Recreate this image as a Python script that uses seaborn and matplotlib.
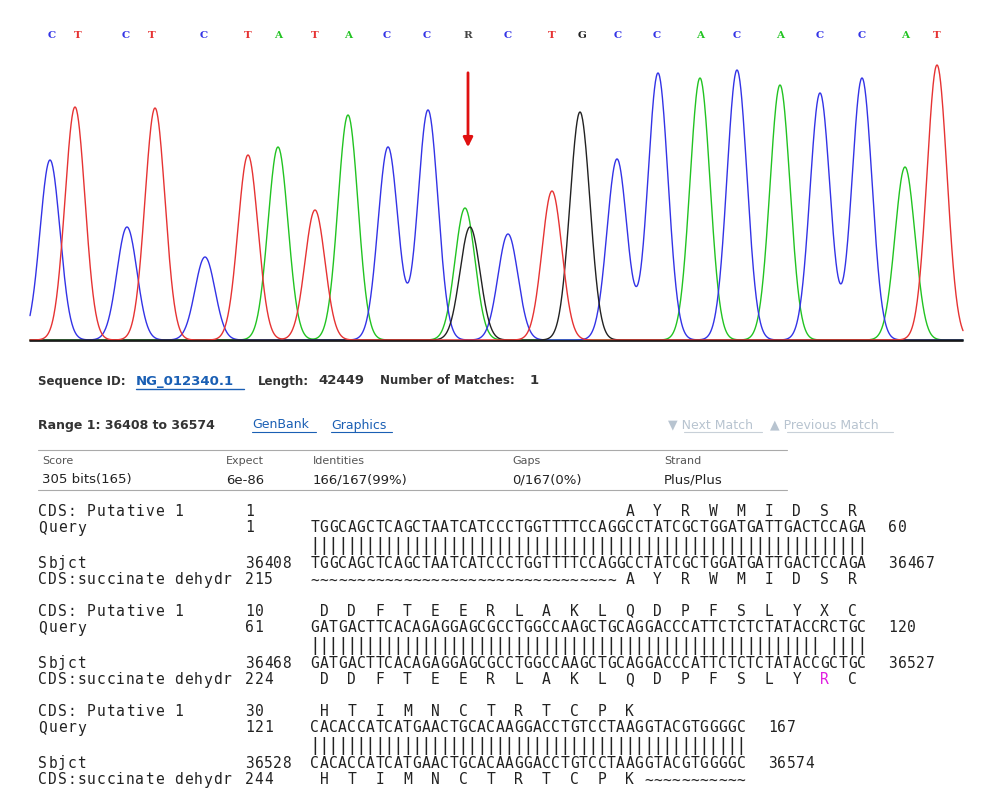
import numpy as np
import pandas as pd
import seaborn as sns
import matplotlib
matplotlib.use("Agg")
import matplotlib.pyplot as plt

sns.set_theme(style="white")
plt.rcParams['font.family'] = ['DejaVu Sans']

# ---- chromatogram data ----
peak_x = [50, 75, 127, 155, 205, 248, 278, 315, 348, 388, 428, 465, 470, 508, 552, 580, 617, 658, 700, 737, 780, 820, 862, 905, 937]
peak_h = [180, 233, 113, 232, 83, 185, 193, 130, 225, 193, 230, 132, 113, 106, 149, 228, 181, 267, 262, 270, 255, 247, 262, 173, 275]
peak_base = ['C', 'T', 'C', 'T', 'C', 'T', 'A', 'T', 'A', 'C', 'C', 'A', 'G', 'C', 'T', 'G', 'C', 'C', 'A', 'C', 'A', 'C', 'C', 'A', 'T']
call_x = [52, 78, 126, 152, 204, 248, 278, 315, 348, 387, 427, 468, 508, 552, 582, 618, 657, 700, 737, 780, 820, 862, 905, 937]
call_base = ['C', 'T', 'C', 'T', 'C', 'T', 'A', 'T', 'A', 'C', 'C', 'R', 'C', 'T', 'G', 'C', 'C', 'A', 'C', 'A', 'C', 'C', 'A', 'T']

base_col = {'A': '#22c322', 'C': '#3333e6', 'G': '#222222', 'T': '#e63333', 'R': '#444444'}

fig = plt.figure(figsize=(9.89, 8.0), dpi=100)
ax = fig.add_axes([0, 0, 1, 1])
ax.set_xlim(0, 989)
ax.set_ylim(800, 0)
ax.axis('off')

BASE_Y = 340
xs = np.linspace(30, 963, 2000)
rows = []
for b in 'ACGT':
    y = np.zeros_like(xs)
    for px, ph, pb in zip(peak_x, peak_h, peak_base):
        if pb == b:
            y += ph * np.exp(-0.5 * ((xs - px) / 10.0) ** 2)
    for xv, yv in zip(xs, y):
        rows.append((b, xv, BASE_Y - yv))
df = pd.DataFrame(rows, columns=['base', 'x', 'y'])
sns.lineplot(data=df, x='x', y='y', hue='base', palette=base_col, ax=ax,
             legend=False, linewidth=1.0, sort=False, estimator=None)
ax.plot([30, 963], [BASE_Y + 1, BASE_Y + 1], color='#111111', lw=1.2)

for cx, cb in zip(call_x, call_base):
    ax.text(cx, 36, cb, color=base_col[cb], fontsize=7.5, ha='center', va='center',
            family='DejaVu Serif', fontweight='bold')
ax.annotate('', xy=(468, 150), xytext=(468, 70),
            arrowprops=dict(arrowstyle='-|>', color='#e01010', lw=2, mutation_scale=14))

# ---- header text ----
gray = '#333333'
link = '#1a5fb4'
ax.text(38, 381, 'Sequence ID:', fontsize=8.5, fontweight='bold', color=gray, va='center')
ax.text(136, 381, 'NG_012340.1', fontsize=9.5, fontweight='bold', color=link, va='center')
ax.plot([136, 244], [389, 389], color=link, lw=1)
ax.text(258, 381, 'Length:', fontsize=8.5, fontweight='bold', color=gray, va='center')
ax.text(318, 381, '42449', fontsize=9.5, fontweight='bold', color=gray, va='center')
ax.text(380, 381, 'Number of Matches:', fontsize=8.5, fontweight='bold', color=gray, va='center')
ax.text(530, 381, '1', fontsize=9.5, fontweight='bold', color=gray, va='center')

ax.text(38, 425, 'Range 1: 36408 to 36574', fontsize=9, fontweight='bold', color=gray, va='center')
ax.text(252, 425, 'GenBank', fontsize=9, color=link, va='center')
ax.plot([252, 316], [432, 432], color=link, lw=0.8)
ax.text(331, 425, 'Graphics', fontsize=9, color=link, va='center')
ax.plot([331, 392], [432, 432], color=link, lw=0.8)
ax.text(668, 425, '▼ Next Match', fontsize=9, color='#b8c4d0', va='center')
ax.plot([684, 762], [432, 432], color='#c8d0d8', lw=0.8)
ax.text(770, 425, '▲ Previous Match', fontsize=9, color='#b8c4d0', va='center')
ax.plot([787, 893], [432, 432], color='#c8d0d8', lw=0.8)

ax.plot([38, 787], [450, 450], color='#aaaaaa', lw=0.8)
ax.plot([38, 787], [490, 490], color='#aaaaaa', lw=0.8)
hdr = ['Score', 'Expect', 'Identities', 'Gaps', 'Strand']
vals = ['305 bits(165)', '6e-86', '166/167(99%)', '0/167(0%)', 'Plus/Plus']
hx = [42, 226, 313, 512, 664]
for h, v, x in zip(hdr, vals, hx):
    ax.text(x, 461, h, fontsize=8, color='#555555', va='center')
    ax.text(x, 480, v, fontsize=9.5, color='#222222', va='center')

# ---- alignment ----
q_seqs = ['TGGCAGCTCAGCTAATCATCCCTGGTTTTCCAGGCCTATCGCTGGATGATTGACTCCAGA',
          'GATGACTTCACAGAGGAGCGCCTGGCCAAGCTGCAGGACCCATTCTCTCTATACCRCTGC',
          'CACACCATCATGAACTGCACAAGGACCTGTCCTAAGGTACGTGGGGC']
s_seqs = ['TGGCAGCTCAGCTAATCATCCCTGGTTTTCCAGGCCTATCGCTGGATGATTGACTCCAGA',
          'GATGACTTCACAGAGGAGCGCCTGGCCAAGCTGCAGGACCCATTCTCTCTATACCGCTGC',
          'CACACCATCATGAACTGCACAAGGACCTGTCCTAAGGTACGTGGGGC']
q_start = ['1', '61', '121']
q_end = ['60', '120', '167']
s_start = ['36408', '36468', '36528']
s_end = ['36467', '36527', '36574']
cds1_start = ['1', '10', '30']
cds2_start = ['215', '224', '244']
aa_top = ['AYRWMIDSR', 'DDFTEERLAKLQDPFSLYXC', 'HTIMNCTRTCPK']
aa_bot = ['AYRWMIDSR', 'DDFTEERLAKLQDPFSLYRC', 'HTIMNCTRTCPK']
aa_off = [34, 1, 1]
tilde_pre = [33, 0, 0]
tilde_post = [0, 0, 11]

PITCH = 9.27
SX = 310
mono = 'DejaVu Sans Mono'
tc = '#222222'

def put_chars(s, x0, y, pitch=PITCH, colors=None, size=10.5):
    for i, ch in enumerate(s):
        if ch == ' ':
            continue
        ax.text(x0 + i * pitch + pitch / 2, y, ch, fontsize=size, family=mono,
                color=(colors.get(i, tc) if colors else tc), ha='center', va='center')

block_y = [511, 611, 711]
for k in range(3):
    y0 = block_y[k]
    q, s = q_seqs[k], s_seqs[k]
    n = len(q)
    top = ' ' * aa_off[k] + '  '.join(aa_top[k])
    bot_aa = '  '.join(aa_bot[k])
    bot = ('~' * tilde_pre[k] + ' ' + bot_aa) if tilde_pre[k] else (' ' * aa_off[k] + bot_aa)
    if tilde_post[k]:
        bot = bot + ' ' + '~' * tilde_post[k]
    bars = ''.join('|' if a == b else ' ' for a, b in zip(q, s))
    put_chars('CDS: Putative 1', 38, y0, pitch=9.7)
    put_chars('Query', 38, y0 + 17, pitch=9.7)
    put_chars('Sbjct', 38, y0 + 52, pitch=9.7)
    put_chars('CDS:succinate dehydr', 38, y0 + 69, pitch=9.7)
    put_chars(cds1_start[k], 245, y0, pitch=9.3)
    put_chars(q_start[k], 245, y0 + 17, pitch=9.3)
    put_chars(s_start[k], 245, y0 + 52, pitch=9.3)
    put_chars(cds2_start[k], 245, y0 + 69, pitch=9.3)
    put_chars(top, SX, y0)
    put_chars(q, SX, y0 + 17)
    put_chars(bars, SX, y0 + 35, size=13)
    put_chars(s, SX, y0 + 52)
    magenta = {}
    if k == 1:
        magenta = {aa_off[k] + 3 * 18: '#e020e0'}
    put_chars(bot, SX, y0 + 69, colors=magenta)
    ex = SX + n * PITCH + 22
    put_chars(q_end[k], ex, y0 + 17, pitch=9.3)
    put_chars(s_end[k], ex, y0 + 52, pitch=9.3)

fig.savefig('out.png', dpi=100, facecolor='white')
